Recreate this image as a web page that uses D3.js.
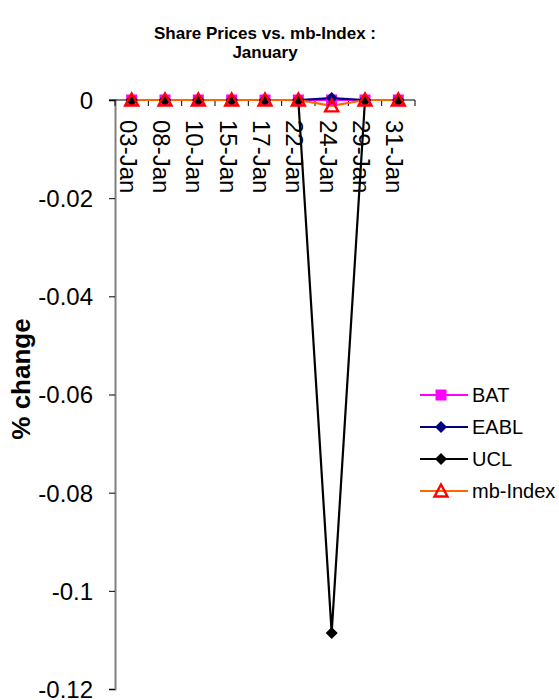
<!DOCTYPE html>
<html>
<head>
<meta charset="utf-8">
<script src="https://cdn.jsdelivr.net/npm/d3@7"></script>
<style>
body { margin: 0; background: #fff; }
text { font-family: Arial, "Liberation Sans", sans-serif; }
</style>
</head>
<body>
<script>
// data
const dates = ["03-Jan","08-Jan","10-Jan","15-Jan","17-Jan","22-Jan","24-Jan","29-Jan","31-Jan"]
const bat   = [0, 0, 0, 0, 0, 0, 0, 0, 0]
const eabl  = [0, 0, 0, 0, 0, 0, 0.0004, 0, 0]
const ucl   = [0, 0, 0, 0, 0, 0, -0.1086, 0, 0]
const mbIdx = [0, 0, 0, 0, 0, 0, -0.0012, 0, 0]
const yTicks = [0, -0.02, -0.04, -0.06, -0.08, -0.1, -0.12]

const series = [
    {name: "BAT", values: bat, color: "#ff00ff", marker: "square"},
    {name: "EABL", values: eabl, color: "#000080", marker: "diamond"},
    {name: "UCL", values: ucl, color: "#000000", marker: "diamond"},
    {name: "mb-Index", values: mbIdx, color: "#ff6600", marker: "triangle"},
]

const W = 559, H = 700
const svg = d3.select("body").append("svg").attr("width", W).attr("height", H)

const x = d3.scaleBand().domain(dates).range([115, 415])
const y = d3.scaleLinear().domain([-0.12, 0]).range([689, 100])

// title
svg.append("text").attr("x", 265).attr("y", 39).attr("text-anchor", "middle")
    .attr("font-size", 17).attr("font-weight", "bold").text("Share Prices vs. mb-Index :")
svg.append("text").attr("x", 265).attr("y", 58).attr("text-anchor", "middle")
    .attr("font-size", 17).attr("font-weight", "bold").text("January")

// y label
svg.append("text").attr("transform", "translate(30,379) rotate(-90)")
    .attr("text-anchor", "middle").attr("font-size", 26).attr("font-weight", "bold").text("% change")

// y axis
const yAxis = svg.append("g").attr("transform", "translate(115,0)")
    .call(d3.axisLeft(y).tickValues(yTicks).tickSize(6).tickPadding(16).tickFormat(d => String(+d.toFixed(2))))
yAxis.select(".domain").attr("stroke", "#808080").attr("stroke-width", 2)
yAxis.selectAll(".tick line").attr("stroke", "#000")
yAxis.selectAll(".tick text").attr("font-size", 24).attr("dy", "0.35em")

// x axis at zero, ticks between categories
const xg = svg.append("g")
xg.append("line").attr("x1", 109).attr("x2", 415).attr("y1", y(0)).attr("y2", y(0)).attr("stroke", "#000").attr("stroke-width", 1.2)
const bounds = dates.map(d => x(d)).concat([x.range()[1]])
xg.selectAll("line.tk").data(bounds).join("line").attr("class", "tk")
    .attr("x1", d => d).attr("x2", d => d).attr("y1", y(0)).attr("y2", y(0) + 6).attr("stroke", "#000")
xg.selectAll("text").data(dates).join("text")
    .attr("transform", d => `translate(${x(d) + x.bandwidth() / 2},${y(0) + 20}) rotate(90)`)
    .attr("dy", "0.5em").attr("font-size", 24).text(d => d)

const cx = d => x(d) + x.bandwidth() / 2

function marker(g, type, color) {
    if (type === "square") {
        g.append("rect").attr("x", -5.5).attr("y", -5.5).attr("width", 11).attr("height", 11).attr("fill", color)
    } else if (type === "diamond") {
        g.append("path").attr("d", "M0,-6L6,0L0,6L-6,0Z").attr("fill", color)
    } else {
        g.append("path").attr("d", "M0,-6.5L6.5,5.5L-6.5,5.5Z").attr("fill", "none").attr("stroke", "#ff0000").attr("stroke-width", 2.4)
    }
}

const line = d3.line().x((d, i) => cx(dates[i])).y(d => y(d))
series.forEach(s => {
    svg.append("path").datum(s.values).attr("d", line).attr("fill", "none")
        .attr("stroke", s.color).attr("stroke-width", 2.2)
})
series.forEach(s => {
    s.values.forEach((v, i) => {
        const g = svg.append("g").attr("transform", `translate(${cx(dates[i])},${y(v)})`)
        marker(g, s.marker, s.color)
    })
})

// legend
const lg = svg.append("g")
series.forEach((s, i) => {
    const ly = 395 + i * 32
    lg.append("line").attr("x1", 420).attr("x2", 468).attr("y1", ly).attr("y2", ly)
        .attr("stroke", s.color).attr("stroke-width", 2.2)
    marker(lg.append("g").attr("transform", `translate(441,${ly})`), s.marker, s.color)
    lg.append("text").attr("x", 472).attr("y", ly).attr("dy", "0.35em").attr("font-size", 20).text(s.name)
})
</script>
</body>
</html>
